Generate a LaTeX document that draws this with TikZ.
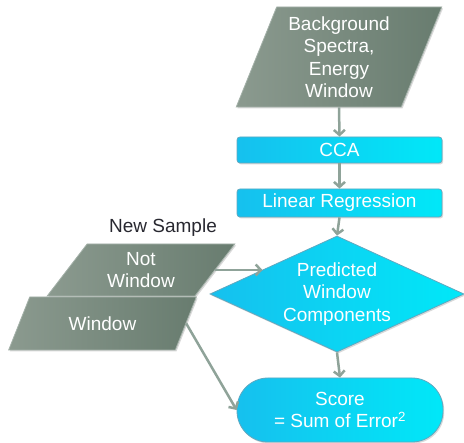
\documentclass[tikz,border=0pt]{standalone}
\usepackage{fontspec}
\setmainfont{Liberation Sans}
\usetikzlibrary{shapes.geometric,shadows,arrows.meta}
\definecolor{ioA}{RGB}{139,154,143}
\definecolor{ioB}{RGB}{104,124,111}
\definecolor{ioL}{RGB}{165,178,170}
\definecolor{prA}{RGB}{22,192,238}
\definecolor{prB}{RGB}{0,232,248}
\definecolor{prL}{RGB}{96,168,192}
\definecolor{arr}{RGB}{143,163,153}
\definecolor{lbl}{RGB}{40,40,48}

\begin{document}
\begin{tikzpicture}[
  x=1pt, y=-1pt,
  font=\fontsize{19}{22.5}\selectfont,
  box/.style={draw, line width=0.8pt, align=center, text=white, inner sep=0pt,
    drop shadow={shadow xshift=1.2pt, shadow yshift=-1.5pt, opacity=0.25, fill=black!60}},
  io/.style={box, trapezium, trapezium stretches=true, left color=ioA, right color=ioB, draw=ioL},
  proc/.style={box, rounded corners=3pt, left color=prA, right color=prB, draw=prL, minimum width=205pt},
  dec/.style={box, diamond, shape aspect=2.2, left color=prA, right color=prB, draw=prL, minimum width=254pt, minimum height=116pt},
  term/.style={box, rounded corners=31pt, left color=prA, right color=prB, draw=prL, minimum width=206pt, minimum height=64pt},
  flow/.style={-{Straight Barb[length=5pt,width=11pt]}, line width=2.5pt, draw=arr},
]
\useasboundingbox (0,0) rectangle (464,443);

% ---- main column ----
\node[io, trapezium left angle=68, trapezium right angle=112, minimum width=206pt, minimum height=100pt] (bg) at (339,57)
  {Background\\Spectra,\\Energy\\Window};
\node[proc, minimum height=26pt] (cca) at (339.5,150) {CCA};
\node[proc, minimum height=28pt] (lr)  at (339.5,203) {Linear Regression};
\node[dec] (dia) at (337,294) {Predicted\\Window\\Components};
\node[term] (score) at (340,410) {Score\\= Sum of Error\textsuperscript{2}};

% ---- new sample inputs ----
\node[text=lbl] (ns) at (163,228) {New Sample};
\node[io, trapezium left angle=55, trapezium right angle=125, minimum width=188pt, minimum height=52pt] (nw) at (141,270)
  {Not\\Window};
\node[io, trapezium left angle=55, trapezium right angle=125, minimum width=189pt, minimum height=53pt] (win) at (102.5,323.5)
  {Window};

% ---- connectors ----
\draw[flow] (bg.south) -- (cca.north);
\draw[flow] (cca.south) -- (lr.north);
\draw[flow] (lr.south) -- (dia.north);
\draw[flow] (dia.south) -- (score.north);
\draw[flow] (nw.east) -- (nw.east -| dia.162);
\draw[flow] (win.east) -- (score.west);

\end{tikzpicture}
\end{document}
